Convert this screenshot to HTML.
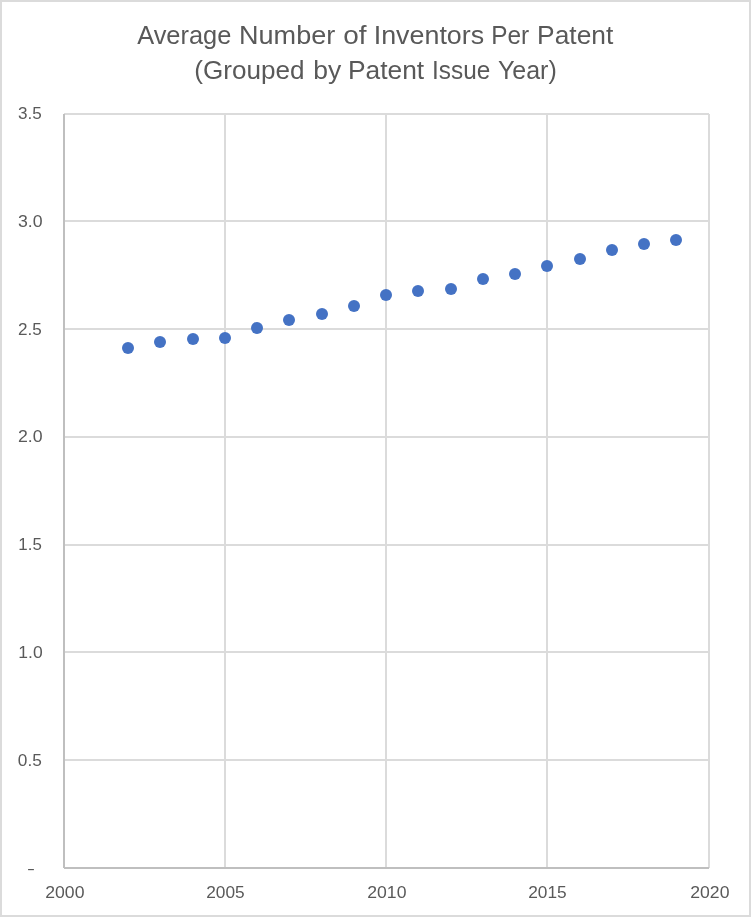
<!DOCTYPE html>
<html lang="en">
<head>
<meta charset="utf-8">
<title>Average Number of Inventors Per Patent (Grouped by Patent Issue Year)</title>
<style>
html,body{margin:0;padding:0;background:#fff;}
body{width:751px;height:917px;overflow:hidden;}
svg{display:block;}
text{font-family:"Liberation Sans",Arial,Helvetica,sans-serif;fill:#595959;}
.t{font-size:26px;}
.l{font-size:17px;}
</style>
</head>
<body>
<svg width="751" height="917" viewBox="0 0 751 917">
<rect x="0" y="0" width="751" height="917" fill="#dbdbdb"/>
<rect x="2" y="2" width="747" height="913" fill="#fff"/>
<g fill="#dbdbdb" shape-rendering="crispEdges">
<rect x="64" y="113" width="645" height="2"/>
<rect x="64" y="220" width="645" height="2"/>
<rect x="64" y="328" width="645" height="2"/>
<rect x="64" y="436" width="645" height="2"/>
<rect x="64" y="544" width="645" height="2"/>
<rect x="64" y="651" width="645" height="2"/>
<rect x="64" y="759" width="645" height="2"/>
<rect x="224" y="114" width="2" height="754"/>
<rect x="385" y="114" width="2" height="754"/>
<rect x="546" y="114" width="2" height="754"/>
<rect x="708" y="114" width="2" height="754"/>
</g>
<g fill="#bfbfbf" shape-rendering="crispEdges">
<rect x="63" y="114" width="2" height="754"/>
<rect x="64" y="867" width="645" height="2"/>
</g>
<g fill="#4472c4">
<circle cx="128" cy="348" r="6"/>
<circle cx="160" cy="342" r="6"/>
<circle cx="193" cy="339" r="6"/>
<circle cx="225" cy="338" r="6"/>
<circle cx="257" cy="328" r="6"/>
<circle cx="289" cy="320" r="6"/>
<circle cx="322" cy="314" r="6"/>
<circle cx="354" cy="306" r="6"/>
<circle cx="386" cy="295" r="6"/>
<circle cx="418" cy="291" r="6"/>
<circle cx="451" cy="289" r="6"/>
<circle cx="483" cy="279" r="6"/>
<circle cx="515" cy="274" r="6"/>
<circle cx="547" cy="266" r="6"/>
<circle cx="580" cy="259" r="6"/>
<circle cx="612" cy="250" r="6"/>
<circle cx="644" cy="244" r="6"/>
<circle cx="676" cy="240" r="6"/>
</g>
<g>
<text class="t" transform="translate(137.20 44) scale(0.9764 1)">Average</text>
<text class="t" transform="translate(239.06 44) scale(1.0407 1)">Number</text>
<text class="t" transform="translate(343.33 44) scale(1.0747 1)">of</text>
<text class="t" transform="translate(373.72 44) scale(1.0329 1)">Inventors</text>
<text class="t" transform="translate(491.19 44) scale(0.9377 1)">Per</text>
<text class="t" transform="translate(537.12 44) scale(1.0131 1)">Patent</text>
<text class="t" transform="translate(194.30 79) scale(1.0033 1)">(Grouped</text>
<text class="t" transform="translate(313.22 79) scale(1.0196 1)">by</text>
<text class="t" transform="translate(347.92 79) scale(1.0144 1)">Patent</text>
<text class="t" transform="translate(432.06 79) scale(0.9368 1)">Issue</text>
<text class="t" transform="translate(497.88 79) scale(0.9617 1)">Year)</text>
</g>
<g>
<text class="l" transform="translate(18.04 119) scale(1.0067 1)">3.5</text>
<text class="l" transform="translate(18.02 227) scale(1.0427 1)">3.0</text>
<text class="l" transform="translate(18.04 335) scale(1.0067 1)">2.5</text>
<text class="l" transform="translate(18.02 442) scale(1.0427 1)">2.0</text>
<text class="l" transform="translate(18.36 550) scale(0.9931 1)">1.5</text>
<text class="l" transform="translate(18.31 658) scale(1.0299 1)">1.0</text>
<text class="l" transform="translate(17.84 766) scale(1.0157 1)">0.5</text>
<text class="l" transform="translate(26.95 873.6) scale(1.41 0.9)">-</text>
<text class="l" transform="translate(45.22 898) scale(1.0384 1)">2000</text>
<text class="l" transform="translate(206.24 898) scale(1.0179 1)">2005</text>
<text class="l" transform="translate(367.22 898) scale(1.0384 1)">2010</text>
<text class="l" transform="translate(528.24 898) scale(1.0179 1)">2015</text>
<text class="l" transform="translate(690.22 898) scale(1.0384 1)">2020</text>
</g>
</svg>
</body>
</html>
